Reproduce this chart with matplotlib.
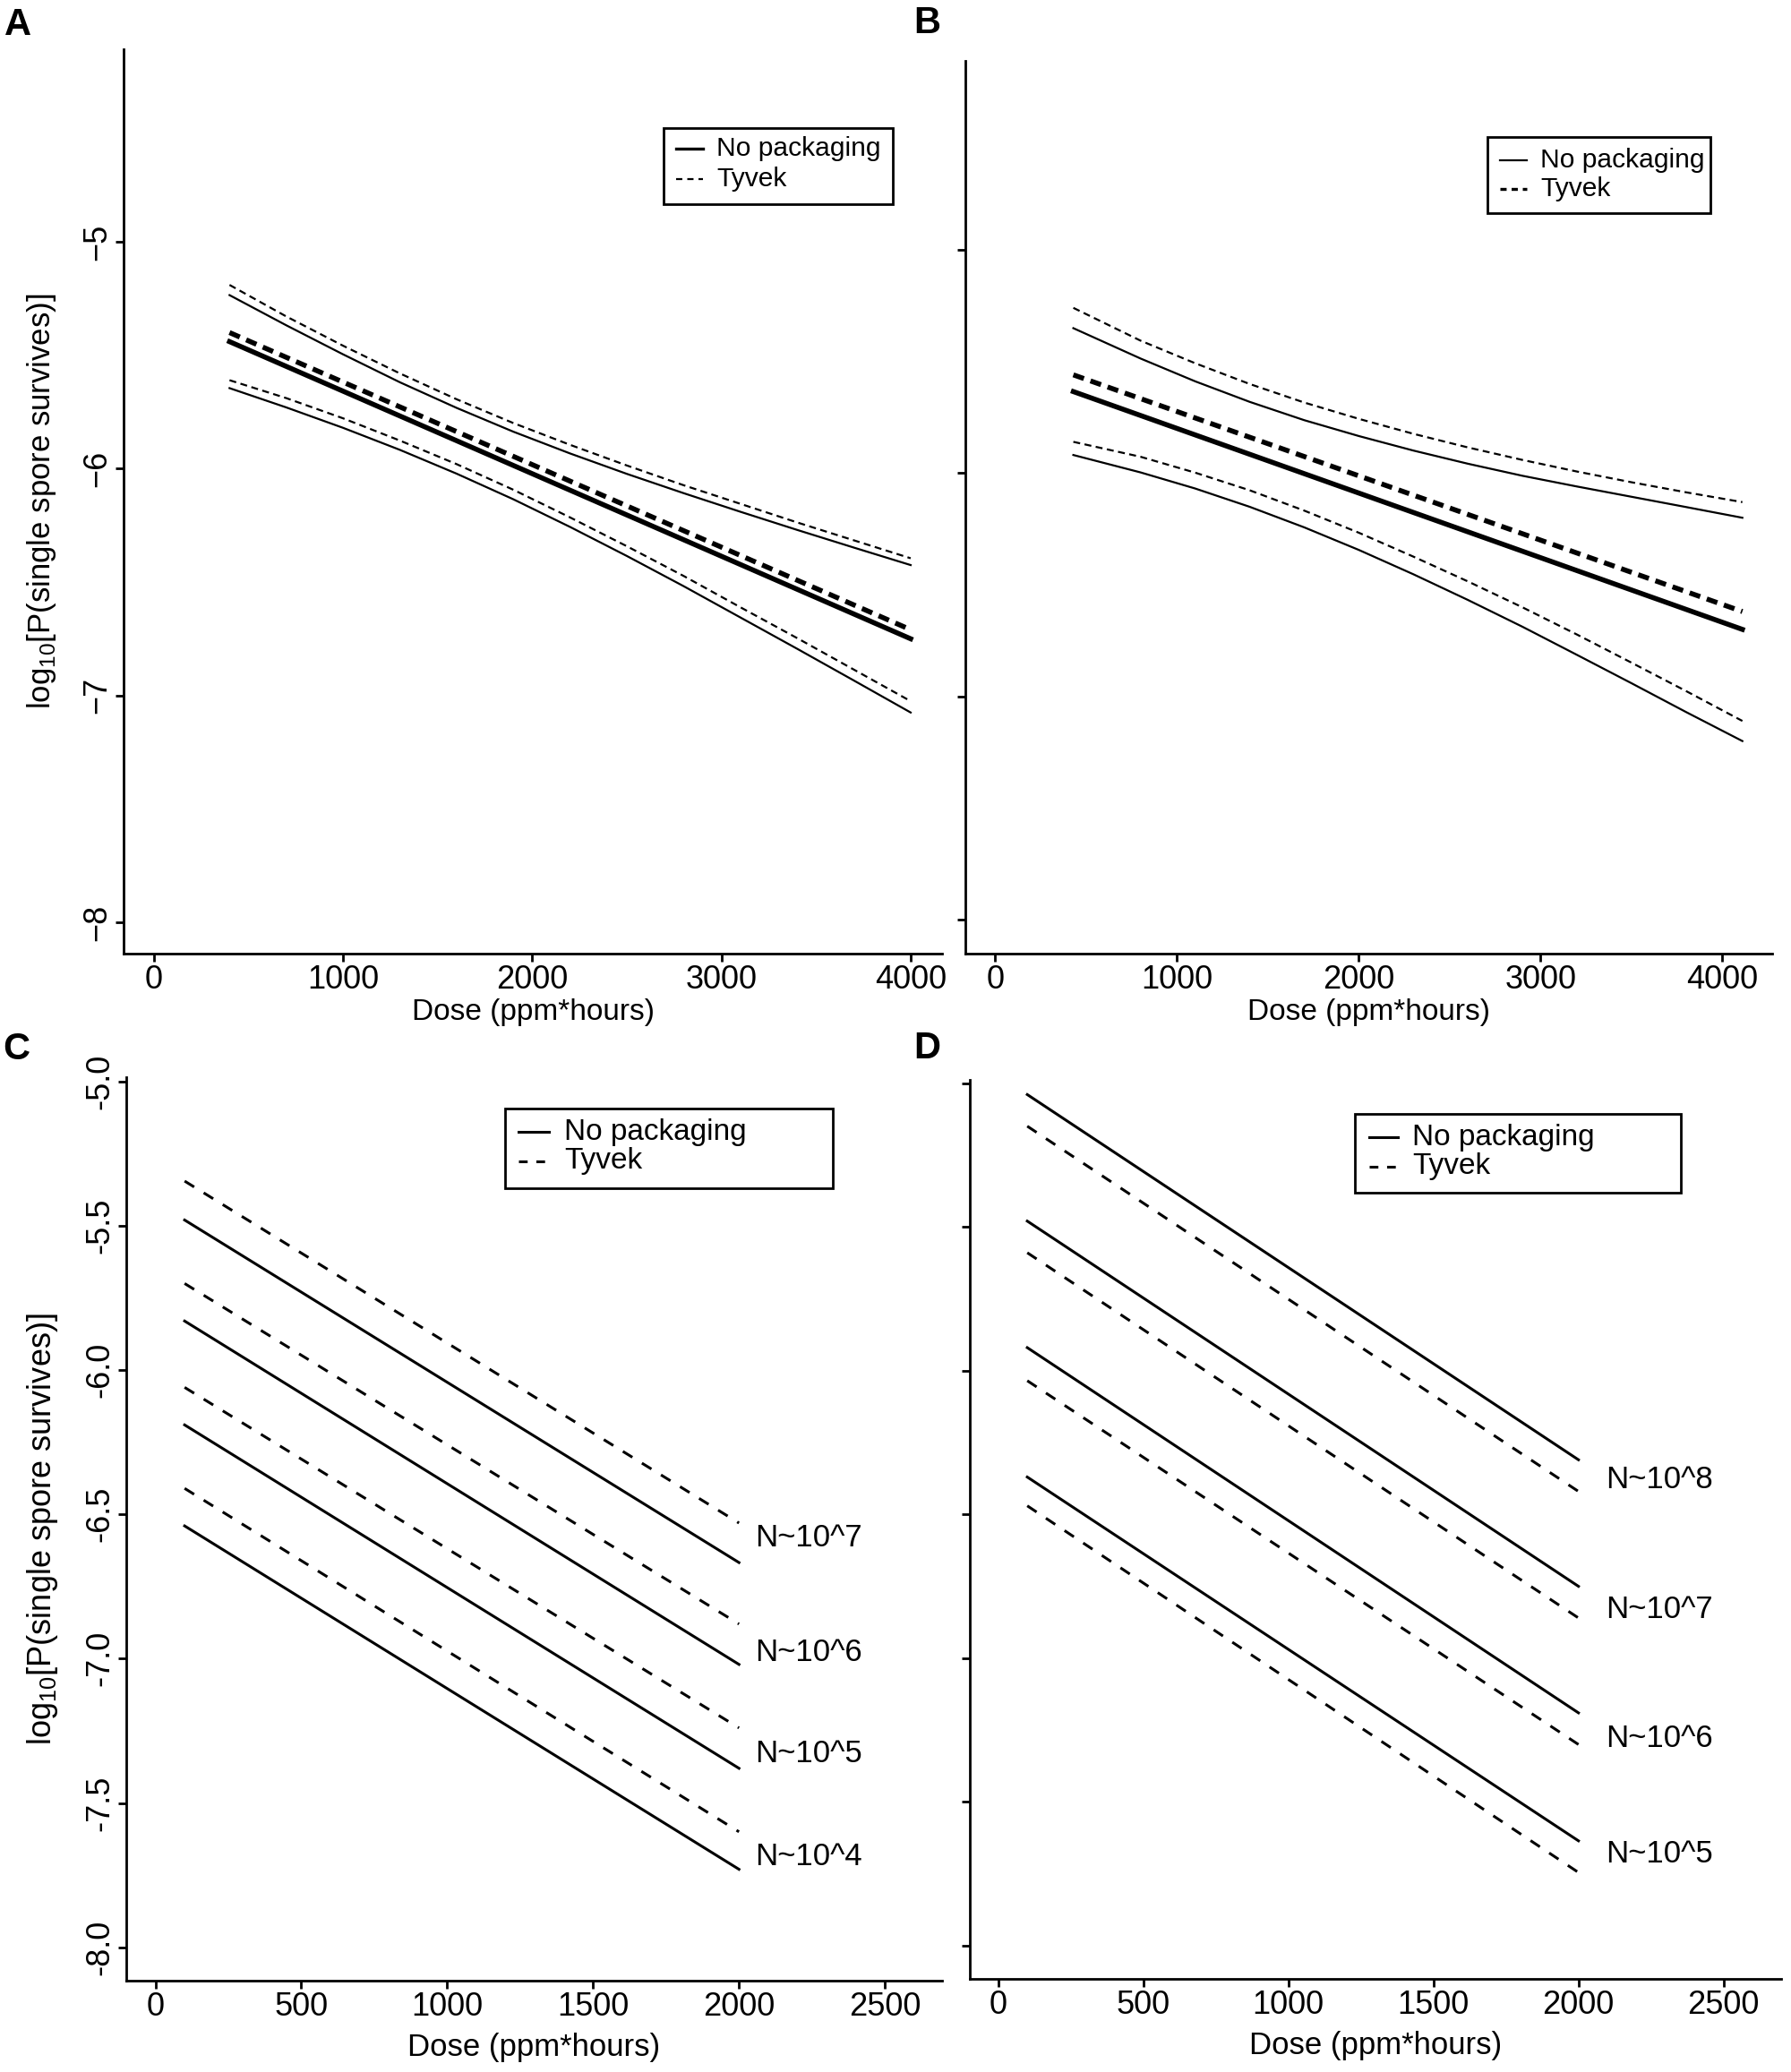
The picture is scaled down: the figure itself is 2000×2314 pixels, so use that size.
import matplotlib
matplotlib.use("Agg")
import matplotlib.pyplot as plt
from matplotlib.lines import Line2D
from matplotlib.patches import Rectangle

plt.rcParams["font.family"] = ["Liberation Sans", "DejaVu Sans"]
plt.rcParams["lines.scale_dashes"] = False
plt.rcParams["axes.unicode_minus"] = True

W, H, DPI = 2000, 2314, 200

# ---- panel A: fitted line + confidence bands
a_fit_x = [400, 4000]
a_np_fit = [-5.44, -6.75]
a_ty_fit = [-5.40, -6.71]
a_band_x = [400, 700, 1000, 1300, 1600, 1900, 2200, 2500, 2800, 3100, 3400, 3700, 4000]
a_np_hi = [-5.235, -5.368, -5.496, -5.619, -5.732, -5.837, -5.933,
           -6.023, -6.108, -6.190, -6.270, -6.348, -6.425]
a_np_lo = [-5.645, -5.730, -5.820, -5.917, -6.022, -6.135, -6.257,
           -6.385, -6.518, -6.656, -6.794, -6.934, -7.075]
a_ty_hi = [-5.190, -5.329, -5.458, -5.580, -5.694, -5.799, -5.895,
           -5.986, -6.073, -6.155, -6.237, -6.316, -6.395]
a_ty_lo = [-5.610, -5.689, -5.778, -5.876, -5.980, -6.093, -6.215,
           -6.342, -6.473, -6.611, -6.747, -6.886, -7.025]

# ---- panel B
b_fit_x = [430, 4110]
b_np_fit = [-5.635, -6.70]
b_ty_fit = [-5.56, -6.62]
b_band_x = [430, 800, 1100, 1400, 1700, 2000, 2300, 2600, 2900, 3200, 3500, 3800, 4110]
b_np_hi = [-5.351, -5.487, -5.589, -5.681, -5.763, -5.834, -5.899,
           -5.958, -6.012, -6.060, -6.106, -6.152, -6.200]
b_np_lo = [-5.919, -5.997, -6.069, -6.151, -6.243, -6.344, -6.453,
           -6.568, -6.688, -6.814, -6.941, -7.070, -7.200]
b_ty_hi = [-5.260, -5.407, -5.508, -5.601, -5.684, -5.757, -5.824,
           -5.885, -5.941, -5.993, -6.041, -6.086, -6.130]
b_ty_lo = [-5.860, -5.927, -5.998, -6.077, -6.168, -6.267, -6.374,
           -6.485, -6.601, -6.723, -6.849, -6.976, -7.110]

# ---- panel C: one line per inoculum size
c_x = [100, 2000]
c_labels = ["N~10^7", "N~10^6", "N~10^5", "N~10^4"]
c_np_start = [-5.48, -5.83, -6.19, -6.54]
c_np_end = [-6.667, -7.02, -7.38, -7.73]
c_ty_start = [-5.345, -5.70, -6.06, -6.41]
c_ty_end = [-6.53, -6.88, -7.24, -7.60]
c_label_y = [-6.58, -6.98, -7.33, -7.685]

# ---- panel D
d_x = [100, 2000]
d_labels = ["N~10^8", "N~10^7", "N~10^6", "N~10^5"]
d_np_start = [-5.04, -5.48, -5.92, -6.37]
d_np_end = [-6.31, -6.75, -7.19, -7.635]
d_ty_start = [-5.15, -5.59, -6.035, -6.47]
d_ty_end = [-6.42, -6.86, -7.30, -7.745]
d_label_y = [-6.38, -6.83, -7.28, -7.68]

YLABEL = r"log$_{\mathregular{10}}$[P(single spore survives)]"
XLABEL = "Dose (ppm*hours)"

fig = plt.figure(figsize=(W / DPI, H / DPI), dpi=DPI)


def add_ax(l, t, r, b):
    # pixel box -> figure fraction
    return fig.add_axes([l / W, 1 - b / H, (r - l) / W, (b - t) / H])


def style(ax, fs):
    for s in ("top", "right"):
        ax.spines[s].set_visible(False)
    for s in ("left", "bottom"):
        ax.spines[s].set_linewidth(1.0)
    ax.tick_params(direction="out", length=3.3, width=1.0, labelsize=fs, pad=1)
    ax.tick_params(axis="y", labelrotation=90)
    for lab in ax.get_yticklabels():
        lab.set_va("center")


def legend_box(box, hx, rows, fs, np_lw, ty_lw, ty_dash):
    l, t, r, b = box
    fig.add_artist(Rectangle((l / W, 1 - b / H), (r - l) / W, (b - t) / H,
                             transform=fig.transFigure, fill=False,
                             edgecolor="black", linewidth=1.0))
    styles = [dict(lw=np_lw, ls="-"), dict(lw=ty_lw, dashes=ty_dash)]
    for (label, y), st in zip(zip(["No packaging", "Tyvek"], rows), styles):
        ln = Line2D([hx[0] / W, hx[1] / W], [1 - y / H, 1 - y / H],
                    transform=fig.transFigure, color="black", **st)
        fig.add_artist(ln)
        fig.text(hx[2] / W, 1 - y / H, label, fontsize=fs, va="center", ha="left")


# ---------------- A
ax = add_ax(138, 55, 1052, 1065)
ax.plot(a_fit_x, a_np_fit, color="black", lw=2.0)
ax.plot(a_fit_x, a_ty_fit, color="black", lw=2.0, dashes=(4.5, 2.8))
ax.plot(a_band_x, a_np_hi, color="black", lw=0.8)
ax.plot(a_band_x, a_np_lo, color="black", lw=0.8)
ax.plot(a_band_x, a_ty_hi, color="black", lw=0.8, dashes=(2.8, 1.8))
ax.plot(a_band_x, a_ty_lo, color="black", lw=0.8, dashes=(2.8, 1.8))
ax.set_xlim(-160, 4166)
ax.set_ylim(-8.138, -4.151)
ax.set_xticks([0, 1000, 2000, 3000, 4000])
ax.set_yticks([-5, -6, -7, -8])
style(ax, 13)
ax.set_xlabel(XLABEL, fontsize=12, labelpad=1)
ax.set_ylabel(YLABEL, fontsize=12.5, labelpad=2)
ax.yaxis.set_label_coords((65 - 138) / 914, 0.5)
legend_box((741, 143, 997, 228), (755, 785, 800), (166, 200), 10.8,
           1.2, 0.8, (2.5, 2.0))

# ---------------- B
ax = add_ax(1078, 67.5, 1979, 1065)
ax.plot(b_fit_x, b_np_fit, color="black", lw=2.0)
ax.plot(b_fit_x, b_ty_fit, color="black", lw=2.0, dashes=(4.5, 2.8))
ax.plot(b_band_x, b_np_hi, color="black", lw=0.8)
ax.plot(b_band_x, b_np_lo, color="black", lw=0.8)
ax.plot(b_band_x, b_ty_hi, color="black", lw=0.8, dashes=(2.8, 1.8))
ax.plot(b_band_x, b_ty_lo, color="black", lw=0.8, dashes=(2.8, 1.8))
ax.set_xlim(-164, 4274)
ax.set_ylim(-8.152, -4.152)
ax.set_xticks([0, 1000, 2000, 3000, 4000])
ax.set_yticks([-5, -6, -7, -8])
style(ax, 13)
ax.set_yticklabels([])
ax.set_xlabel(XLABEL, fontsize=12, labelpad=1)
legend_box((1661, 152.7, 1910, 237.7), (1675, 1705, 1720), (179, 211), 10.8,
           0.8, 1.2, (2.5, 2.0))

# ---------------- C
ax = add_ax(141, 1203, 1052, 2211.7)
for s0, s1 in zip(c_np_start, c_np_end):
    ax.plot(c_x, [s0, s1], color="black", lw=1.1)
for s0, s1 in zip(c_ty_start, c_ty_end):
    ax.plot(c_x, [s0, s1], color="black", lw=1.1, dashes=(4.5, 4.5))
for lab, y in zip(c_labels, c_label_y):
    ax.text(2055, y, lab, fontsize=12.5, ha="left", va="center")
ax.set_xlim(-100, 2696)
ax.set_ylim(-8.115, -4.985)
ax.set_xticks([0, 500, 1000, 1500, 2000, 2500])
ax.set_yticks([-5.0, -5.5, -6.0, -6.5, -7.0, -7.5, -8.0])
ax.set_yticklabels(["-5.0", "-5.5", "-6.0", "-6.5", "-7.0", "-7.5", "-8.0"])
style(ax, 13)
ax.set_xlabel(XLABEL, fontsize=12.5, labelpad=4)
ax.set_ylabel(YLABEL, fontsize=13, labelpad=2)
ax.yaxis.set_label_coords((67 - 141) / 911, 0.5)
legend_box((564, 1237.6, 930, 1326.7), (579, 613, 630), (1264, 1297), 12,
           1.1, 1.1, (3.5, 3.5))

# ---------------- D
ax = add_ax(1083, 1205.7, 1988.5, 2210)
for s0, s1 in zip(d_np_start, d_np_end):
    ax.plot(d_x, [s0, s1], color="black", lw=1.1)
for s0, s1 in zip(d_ty_start, d_ty_end):
    ax.plot(d_x, [s0, s1], color="black", lw=1.1, dashes=(4.5, 4.5))
for lab, y in zip(d_labels, d_label_y):
    ax.text(2095, y, lab, fontsize=12.5, ha="left", va="center")
ax.set_xlim(-98, 2697)
ax.set_ylim(-8.115, -4.988)
ax.set_xticks([0, 500, 1000, 1500, 2000, 2500])
ax.set_yticks([-5.0, -5.5, -6.0, -6.5, -7.0, -7.5, -8.0])
style(ax, 13)
ax.set_yticklabels([])
ax.set_xlabel(XLABEL, fontsize=12.5, labelpad=4)
legend_box((1513.4, 1244.3, 1877, 1332), (1529, 1561, 1577), (1270, 1303), 12,
           1.1, 1.1, (3.5, 3.5))

# panel letters
for letter, (px, py) in zip("ABCD", [(20, 28), (1035, 26), (18, 1172), (1035, 1171)]):
    fig.text(px / W, 1 - py / H, letter, fontsize=15, fontweight="bold",
             ha="center", va="center")

fig.savefig("out.png", dpi=DPI)
